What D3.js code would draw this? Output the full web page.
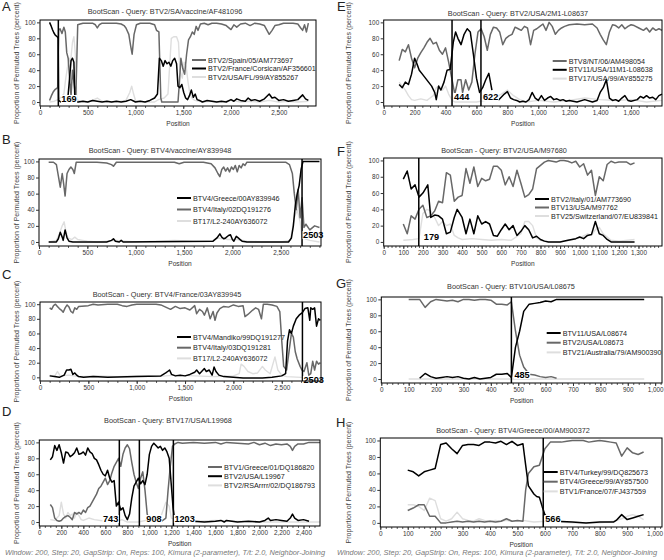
<!DOCTYPE html>
<meta charset="utf-8">
<style>
body{margin:0;background:#fff}
svg{font-family:"Liberation Sans",Arial,sans-serif}
</style>
<div id="fig"></div>
<script src="https://cdn.jsdelivr.net/npm/d3@7"></script>
<script>
var GREY = "#686868", BLACK = "#000", LIGHT = "#dedede";
var footer = "Window: 200, Step: 20, GapStrip: On, Reps: 100, Kimura (2-parameter), T/t: 2.0, Neighbor-Joining";

// ---- A
var aTitle = "BootScan - Query: BTV2/SA/vaccine/AF481096";
var aNames = ["BTV2/Spain/05/AM773697", "BTV2/France/Corsican/AF356601", "BTV2/USA/FL/99/AY855267"];
var aSpain = [[100,2],[120,8],[140,13],[160,16],[185,18],[195,90],[210,92],[230,86],[250,94],[265,88],[280,62],[295,55],[310,30],[325,8],[340,40],[360,20],[375,5],[395,97],[420,98],[450,99],[500,99],[550,99],[580,97],[600,93],[620,97],[650,99],[700,99],[750,99],[800,99],[850,98],[880,96],[900,93],[930,85],[950,70],[965,60],[985,85],[1010,97],[1050,99],[1100,99],[1150,99],[1200,97],[1220,90],[1245,88],[1265,5],[1275,0],[1300,0],[1350,0],[1400,0],[1445,0],[1460,25],[1475,55],[1495,42],[1515,35],[1535,60],[1555,78],[1575,82],[1595,88],[1615,85],[1635,95],[1655,90],[1680,98],[1720,99],[1760,97],[1800,99],[1850,99],[1900,98],[1950,96],[2000,91],[2030,97],[2060,94],[2100,98],[2150,99],[2200,96],[2250,99],[2300,98],[2350,96],[2400,85],[2430,90],[2460,96],[2500,97],[2550,99],[2600,99],[2650,99],[2700,98],[2730,93],[2750,90],[2770,97],[2790,88],[2810,99]];
var aCorsica = [[100,100],[115,96],[130,91],[145,87],[160,84],[180,82],[190,80],[195,2],[220,0],[260,0],[290,3],[310,30],[325,52],[340,55],[355,50],[365,3],[380,0],[400,0],[450,1],[500,0],[550,2],[600,1],[650,0],[700,1],[750,0],[800,1],[850,0],[900,1],[950,3],[1000,0],[1050,1],[1100,0],[1150,2],[1200,5],[1230,10],[1250,55],[1270,52],[1290,45],[1310,52],[1330,48],[1350,50],[1370,45],[1390,52],[1410,55],[1430,48],[1445,20],[1465,18],[1485,22],[1505,12],[1525,5],[1545,3],[1565,8],[1585,15],[1605,6],[1625,10],[1645,3],[1670,2],[1700,0],[1750,2],[1800,1],[1850,0],[1900,1],[1950,0],[2000,3],[2030,1],[2060,4],[2100,2],[2150,1],[2180,5],[2210,2],[2250,3],[2300,1],[2350,4],[2400,10],[2430,5],[2460,6],[2500,2],[2550,3],[2600,1],[2650,2],[2700,3],[2750,9],[2780,4],[2810,2]];
var aFL = [[100,0],[150,1],[190,3],[220,6],[250,10],[270,30],[290,45],[305,55],[320,50],[340,75],[355,82],[370,60],[385,3],[420,1],[500,0],[550,2],[600,5],[650,1],[700,0],[800,0],[900,2],[940,12],[960,20],[980,10],[1000,2],[1050,1],[1100,0],[1200,0],[1240,3],[1300,5],[1340,10],[1360,50],[1375,80],[1400,82],[1430,82],[1450,75],[1465,40],[1490,30],[1510,50],[1530,45],[1550,25],[1570,10],[1590,5],[1620,2],[1700,0],[1800,1],[1900,0],[2000,2],[2100,0],[2200,1],[2300,0],[2400,2],[2500,0],[2600,1],[2700,0],[2810,1]];
var aBreaks = [192], aBreakLbls = ["169"];

// ---- B
var bTitle = "BootScan - Query: BTV4/vaccine/AY839948";
var bNames = ["BTV4/Greece/00AY839946", "BTV4/Italy/02DQ191276", "BT17/L2-240AY636072"];
var bGreece = [[100,0],[180,0],[200,4],[220,12],[240,6],[250,2],[270,15],[290,5],[310,1],[350,0],[700,0],[750,2],[770,4],[790,1],[830,0],[850,2],[870,0],[1800,1],[1840,5],[1870,10],[1890,6],[1910,4],[1930,5],[1960,8],[1980,9],[2000,3],[2015,1],[2040,7],[2060,5],[2080,3],[2100,1],[2150,0],[2580,0],[2610,5],[2630,20],[2650,45],[2670,60],[2690,70],[2710,90],[2730,100],[2900,100]];
var bItaly = [[100,99],[150,99],[180,96],[200,82],[220,68],[240,85],[255,72],[270,57],[290,85],[310,90],[330,93],[350,90],[365,85],[385,99],[420,99],[500,99],[600,99],[700,98],[750,96],[770,94],[800,99],[900,99],[1000,99],[1100,99],[1200,99],[1300,99],[1400,99],[1450,97],[1500,99],[1600,99],[1700,99],[1780,97],[1820,92],[1850,85],[1870,81],[1890,90],[1910,93],[1930,88],[1950,92],[1970,87],[1990,93],[2010,90],[2030,95],[2050,87],[2070,95],[2090,92],[2110,97],[2130,95],[2150,99],[2250,99],[2350,99],[2450,99],[2550,99],[2590,96],[2620,85],[2640,60],[2660,40],[2680,65],[2700,30],[2720,55],[2740,18],[2760,22],[2800,15],[2850,20],[2900,18]];
var bL2 = [[100,0],[180,2],[210,10],[240,20],[260,25],[280,12],[300,5],[340,3],[370,6],[400,3],[450,2],[500,1],[600,0],[800,2],[1000,0],[1200,1],[1400,2],[1600,1],[1800,2],[1850,5],[1950,3],[2050,3],[2150,1],[2300,0],[2500,0],[2600,2],[2640,30],[2670,40],[2700,25],[2720,5],[2800,2],[2900,0]];
var bBreaks = [2720], bBreakLbls = ["2503"];

// ---- C
var cTitle = "BootScan - Query: BTV4/France/03AY839945";
var cNames = ["BTV4/Mandiko/99DQ191277", "BTV4/Italy/03DQ191281", "BT17/L2-240AY636072"];
var cMandiko = [[100,2],[150,1],[200,0],[250,3],[275,10],[300,10],[320,11],[340,4],[360,6],[380,3],[400,1],[450,0],[550,1],[700,0],[1000,1],[1250,2],[1300,6],[1320,8],[1340,10],[1360,4],[1400,2],[1450,3],[1500,2],[1550,4],[1600,7],[1620,10],[1650,5],[1700,12],[1720,8],[1750,10],[1780,3],[1800,14],[1820,8],[1850,3],[1900,1],[2000,0],[2100,-1],[2300,-1],[2400,0],[2500,2],[2540,5],[2560,50],[2580,65],[2600,60],[2620,70],[2650,80],[2680,85],[2710,88],[2740,94],[2770,95],[2790,78],[2800,95],[2820,93],[2840,95],[2860,70],[2880,80],[2900,78]];
var cItaly = [[100,95],[120,93],[140,98],[160,100],[180,97],[200,94],[220,92],[240,89],[260,95],[280,99],[300,96],[320,90],[340,88],[360,95],[380,93],[400,97],[500,98],[550,100],[600,99],[700,100],[800,100],[850,98],[900,97],[950,99],[1000,100],[1100,100],[1200,100],[1250,99],[1300,96],[1350,93],[1400,97],[1450,94],[1500,95],[1550,92],[1600,98],[1620,87],[1650,93],[1680,90],[1700,85],[1730,95],[1760,80],[1790,90],[1810,78],[1830,88],[1860,94],[1900,97],[1950,96],[2000,99],[2050,97],[2100,98],[2120,83],[2150,86],[2200,92],[2230,95],[2260,93],[2290,80],[2310,100],[2350,100],[2400,99],[2450,97],[2480,90],[2500,50],[2520,15],[2550,10],[2580,40],[2600,60],[2620,55],[2640,35],[2660,25],[2690,15],[2710,10],[2730,8],[2760,20],[2780,3],[2800,5],[2820,22],[2840,10],[2860,22],[2880,18],[2900,20]];
var cL2 = [[100,3],[150,1],[180,8],[210,2],[300,3],[400,1],[600,2],[800,1],[1000,2],[1200,1],[1400,3],[1600,2],[1800,1],[2000,2],[2060,5],[2080,18],[2110,15],[2150,8],[2200,5],[2250,6],[2300,15],[2330,10],[2380,5],[2430,28],[2460,10],[2500,3],[2550,1],[2700,0],[2900,0]];
var cBreaks = [2714], cBreakLbls = ["2503"];

// ---- D
var dTitle = "BootScan - Query: BTV17/USA/L19968";
var dNames = ["BTV1/Greece/01/DQ186820", "BTV2/USA/L19967", "BTV2/RSArrrr/02/DQ186793"];
var dGreece = [[100,22],[120,18],[140,5],[160,2],[180,1],[200,2],[220,5],[240,7],[260,8],[280,6],[300,3],[320,12],[340,10],[360,12],[380,10],[400,15],[420,12],[440,18],[460,20],[480,25],[500,30],[520,35],[540,42],[560,45],[580,50],[600,55],[620,47],[640,52],[660,62],[680,70],[700,75],[720,80],[740,70],[760,85],[780,93],[800,97],[820,92],[840,75],[860,60],[880,50],[900,42],[920,55],[940,63],[960,40],[980,10],[1000,2],[1020,0],[1100,0],[1150,5],[1170,40],[1190,70],[1210,95],[1230,98],[1260,100],[1300,99],[1400,100],[1500,99],[1600,100],[1650,98],[1700,100],[1800,99],[1900,98],[1950,100],[2000,97],[2050,99],[2100,96],[2150,98],[2200,97],[2250,98],[2280,95],[2300,90],[2320,95],[2350,98],[2400,98],[2450,100],[2550,100]];
var dUSA = [[100,78],[120,82],[140,96],[160,90],[180,97],[200,87],[220,74],[240,88],[260,87],[280,82],[300,84],[320,87],[340,93],[360,85],[380,86],[400,88],[420,84],[440,93],[460,88],[480,86],[500,80],[520,78],[540,72],[560,65],[580,60],[600,58],[620,65],[640,55],[660,50],[680,52],[700,20],[720,25],[740,15],[760,18],[780,8],[800,3],[820,10],[840,30],[860,45],[880,50],[900,55],[920,48],[940,52],[960,47],[980,60],[1000,85],[1020,95],[1040,99],[1060,96],[1080,93],[1100,95],[1120,90],[1140,93],[1160,88],[1180,80],[1200,45],[1215,18],[1230,2],[1300,0],[1400,1],[1500,0],[1600,1],[1650,2],[1680,0],[1700,2],[1750,1],[1800,0],[1900,1],[2000,0],[2050,2],[2080,5],[2100,2],[2150,3],[2200,2],[2250,1],[2280,5],[2300,10],[2320,5],[2350,2],[2400,3],[2450,1]];
var dRSA = [[100,3],[140,2],[160,5],[180,8],[200,25],[220,10],[240,5],[260,12],[280,8],[300,10],[320,5],[340,12],[360,8],[380,3],[400,2],[450,5],[500,3],[600,1],[700,0],[750,3],[800,0],[900,0],[1000,3],[1100,5],[1150,25],[1180,20],[1200,5],[1250,2],[1300,0],[1600,2],[2000,0],[2550,0]];
var dBreaks = [727, 909, 1218], dBreakLbls = ["743", "908", "1203"];

// ---- E
var eTitle = "BootScan - Query: BTV2/USA/2M1-L08637";
var eNames = ["BTV8/NT/06/AM498054", "BTV11/USA/11M1-L08638", "BTV17/USA/99/AY855275"];
var eNT = [[100,52],[120,66],[140,63],[160,72],[180,55],[200,43],[220,55],[240,62],[260,68],[280,75],[300,80],[320,73],[340,75],[360,65],[380,60],[400,68],[420,50],[440,30],[460,10],[480,28],[500,28],[510,12],[530,28],[550,15],[570,25],[590,60],[610,88],[630,92],[650,82],[670,65],[690,85],[710,94],[730,93],[750,88],[770,72],[790,80],[810,83],[830,85],[850,94],[870,92],[890,90],[910,95],[930,93],[950,72],[970,90],[990,92],[1010,95],[1030,98],[1050,90],[1070,100],[1090,95],[1110,85],[1130,90],[1150,93],[1170,95],[1200,97],[1250,98],[1300,97],[1350,98],[1380,93],[1400,85],[1420,78],[1440,72],[1460,88],[1480,97],[1500,96],[1520,93],[1540,97],[1560,92],[1580,95],[1600,97],[1620,96],[1650,93],[1680,90],[1700,93],[1720,88],[1740,93],[1760,90],[1780,92],[1800,90]];
var eUSA11 = [[100,22],[120,18],[140,25],[160,22],[180,35],[200,55],[215,48],[230,40],[250,35],[270,30],[290,25],[310,20],[330,12],[340,3],[355,20],[370,15],[390,25],[410,40],[430,41],[450,75],[465,88],[480,80],[500,72],[520,85],[540,92],[560,88],[580,60],[600,30],[620,12],[640,18],[660,28],[680,36],[700,15],[720,null],[740,2],[760,6],[780,10],[800,13],[820,5],[840,3],[860,2],[880,0],[900,1],[920,0],[940,3],[960,12],[980,5],[1000,2],[1020,8],[1040,2],[1060,5],[1080,7],[1100,3],[1120,4],[1140,2],[1160,3],[1180,1],[1200,2],[1250,0],[1300,3],[1350,0],[1380,2],[1400,12],[1420,18],[1440,28],[1460,5],[1480,2],[1500,3],[1520,1],[1540,5],[1560,8],[1580,2],[1600,1],[1640,3],[1660,7],[1680,5],[1700,8],[1720,5],[1740,6],[1760,3],[1780,8],[1800,10]];
var eUSA17 = [[100,25],[120,20],[140,15],[160,8],[180,3],[200,2],[240,4],[280,2],[300,5],[320,8],[340,18],[360,20],[380,15],[400,20],[420,10],[440,3],[460,0],[600,0],[660,2],[700,3],[760,10],[800,15],[840,8],[880,3],[920,0],[1000,2],[1100,0],[1200,2],[1300,5],[1400,3],[1500,2],[1600,3],[1700,0],[1800,2]];
var eBreaks = [442, 629], eBreakLbls = ["444", "622"];

// ---- F
var fTitle = "BootScan - Query: BTV2/USA/M97680";
var fNames = ["BTV2/Italy/01/AM773690", "BTV13/USA/M97762", "BTV25/Switzerland/07/EU839841"];
var fItaly = [[100,77],[120,87],[140,65],[160,70],[180,55],[200,60],[225,70],[240,30],[260,33],[280,32],[300,28],[320,10],[340,12],[360,30],[375,40],[400,30],[420,10],[440,28],[460,10],[480,32],[500,22],[520,25],[540,22],[560,8],[580,7],[600,15],[620,22],[640,15],[660,20],[680,8],[700,13],[720,20],[740,15],[760,5],[780,7],[800,3],[820,1],[840,0],[900,0],[940,2],[960,3],[980,4],[1000,6],[1020,4],[1040,8],[1060,9],[1080,25],[1100,10],[1120,8],[1140,3],[1160,0],[1280,0]];
var fUSA13 = [[100,22],[120,10],[140,32],[160,28],[180,40],[200,45],[220,30],[240,32],[260,38],[280,50],[300,48],[320,85],[340,82],[360,50],[380,55],[400,57],[420,90],[440,72],[460,92],[480,68],[500,78],[520,75],[540,77],[560,93],[580,93],[600,88],[620,70],[640,80],[660,68],[680,88],[700,72],[720,55],[740,58],[760,65],[780,90],[800,94],[820,98],[840,100],[860,99],[880,98],[900,100],[920,100],[940,99],[960,97],[980,99],[1000,92],[1020,96],[1040,82],[1060,88],[1080,57],[1100,80],[1120,75],[1140,95],[1160,99],[1180,97],[1200,98],[1220,98],[1240,98],[1260,95],[1280,97]];
var fSwiss = [[100,2],[150,3],[180,4],[200,35],[220,40],[240,38],[260,30],[280,20],[300,25],[320,20],[340,22],[360,8],[380,5],[400,3],[450,4],[500,3],[550,2],[600,3],[650,2],[700,10],[720,25],[740,25],[760,20],[780,5],[800,2],[850,0],[900,0],[950,2],[1000,5],[1040,10],[1060,8],[1080,15],[1100,18],[1120,10],[1160,2],[1200,1],[1280,3]];
var fBreaks = [179], fBreakLbls = ["179"];

// ---- G
var gTitle = "BootScan - Query: BTV10/USA/L08675";
var gNames = ["BTV11/USA/L08674", "BTV2/USA/L08673", "BTV21/Australia/79/AM900390"];
var gUSA11 = [[140,1],[160,7],[180,3],[200,1],[220,2],[240,3],[260,2],[280,3],[300,1],[320,0],[340,2],[360,0],[380,1],[400,2],[420,6],[440,6],[460,7],[475,2],[490,40],[505,60],[520,85],[540,94],[560,95],[580,96],[600,98],[620,97],[640,100],[700,100],[800,100],[900,100],[960,100]];
var gUSA2 = [[100,100],[140,100],[160,90],[180,97],[200,100],[220,99],[240,98],[260,99],[280,97],[300,100],[320,100],[340,99],[360,100],[380,100],[400,99],[420,94],[440,94],[460,93],[475,97],[490,60],[505,30],[520,15],[540,6],[560,5],[580,3],[600,2],[620,3],[640,1]];
var gAus = [[100,0],[200,0],[300,0],[400,0],[500,0],[600,0],[700,0],[800,0],[900,0],[960,0]];
var gBreaks = [475], gBreakLbls = ["485"];

// ---- H
var hTitle = "BootScan - Query: BTV4/Greece/00/AM900372";
var hNames = ["BTV4/Turkey/99/DQ825673", "BTV4/Greece/99/AY857500", "BTV1/France/07/FJ437559"];
var hTurkey = [[100,64],[120,62],[140,57],[160,62],[180,64],[200,66],[220,95],[240,97],[260,90],[280,84],[300,94],[320,95],[340,95],[360,94],[380,98],[400,98],[420,97],[440,99],[460,95],[480,99],[500,94],[520,96],[530,70],[540,45],[560,35],[570,32],[580,31],[590,20],[600,10],[620,3],[640,2],[700,1],[750,0],[800,1],[850,1],[860,3],[880,10],[900,4],[920,6],[940,8],[960,10]];
var hGreece = [[100,15],[120,18],[140,22],[160,22],[180,8],[200,8],[220,0],[240,0],[260,1],[280,2],[300,1],[320,2],[340,1],[360,2],[380,1],[400,2],[420,1],[440,2],[460,5],[480,2],[500,3],[520,2],[530,40],[540,60],[560,68],[580,70],[600,90],[620,98],[640,98],[660,98],[680,99],[700,100],[720,100],[740,100],[760,98],[780,99],[800,100],[820,99],[840,98],[860,97],[880,81],[900,91],[920,85],[940,83],[960,86]];
var hFrance = [[100,22],[120,22],[140,20],[160,15],[180,30],[200,27],[220,5],[240,2],[260,5],[280,13],[300,5],[320,3],[340,2],[360,5],[380,3],[400,2],[420,3],[440,2],[460,3],[480,2],[500,2],[520,3],[540,2],[560,1],[600,2],[650,1],[700,0],[800,0],[850,2],[880,5],[900,8],[920,10],[940,8],[960,4]];
var hBreaks = [594], hBreakLbls = ["566"];

// panel layout
var panels = [
  {tag:"A", tx:2, ty:11, x0:40, x1:316, top:20, bottom:106, xmax:2890, major:500, minor:100, tickMax:2500, titleX:165, titleY:11, title:aTitle,
   names:aNames, series:[aSpain, aCorsica, aFL], colors:[GREY, BLACK, LIGHT], lgX:208, lgY:60, lgDy:8.5,
   breaks:aBreaks, lbls:aBreakLbls, lblDx:[3], lblY:99, ylabX:16},
  {tag:"B", tx:2, ty:144, x0:39, x1:321, top:159, bottom:246, xmax:2916, major:500, minor:100, tickMax:2500, titleX:160, titleY:150, title:bTitle,
   names:bNames, series:[bGreece, bItaly, bL2], colors:[BLACK, GREY, LIGHT], lgX:193, lgY:198, lgDy:11.5,
   breaks:bBreaks, lbls:bBreakLbls, lblDx:[1], lblY:235, ylabX:16},
  {tag:"C", tx:2, ty:279, x0:40, x1:321, top:302, bottom:381, xmax:2906, major:500, minor:100, tickMax:2500, titleX:167, titleY:294, title:cTitle,
   names:cNames, series:[cMandiko, cItaly, cL2], colors:[BLACK, GREY, LIGHT], lgX:193, lgY:337, lgDy:10.7,
   breaks:cBreaks, lbls:cBreakLbls, lblDx:[1], lblY:380, ylabX:16},
  {tag:"D", tx:2, ty:416, x0:39.3, x1:320, top:440, bottom:526, xmax:2550, major:200, minor:50, tickMax:2400, titleX:168, titleY:420, title:dTitle,
   names:dNames, series:[dGreece, dUSA, dRSA], colors:[GREY, BLACK, LIGHT], lgX:224, lgY:467, lgDy:9.2,
   breaks:dBreaks, lbls:dBreakLbls, lblDx:[-1, 7, 1], lblY:519, ylabX:16},
  {tag:"E", tx:337, ty:11, x0:383.7, x1:662, top:20, bottom:106, xmax:1800, major:200, minor:50, tickMax:1600, titleX:518, titleY:13, title:eTitle,
   names:eNames, series:[eNT, eUSA11, eUSA17], colors:[GREY, BLACK, LIGHT], lgX:568.7, lgY:61, lgDy:8.8,
   breaks:eBreaks, lbls:eBreakLbls, lblDx:[2, 2], lblY:97, ylabX:348},
  {tag:"F", tx:337, ty:156, x0:383.7, x1:662, top:158, bottom:246, xmax:1420, major:100, minor:20, tickMax:1300, titleX:504, titleY:150, title:fTitle,
   names:fNames, series:[fItaly, fUSA13, fSwiss], colors:[BLACK, GREY, LIGHT], lgX:551, lgY:199, lgDy:8.5,
   breaks:fBreaks, lbls:fBreakLbls, lblDx:[5], lblY:237, ylabX:348},
  {tag:"G", tx:336, ty:288, x0:381.3, x1:662, top:297, bottom:383, xmax:1025, major:100, minor:20, tickMax:1000, titleX:511, titleY:286, title:gTitle,
   names:gNames, series:[gUSA11, gUSA2, gAus], colors:[BLACK, GREY, LIGHT], lgX:562.7, lgY:333, lgDy:9.7,
   breaks:gBreaks, lbls:gBreakLbls, lblDx:[3], lblY:375, ylabX:348},
  {tag:"H", tx:336, ty:427, x0:380.3, x1:662, top:438, bottom:527, xmax:1027, major:100, minor:20, tickMax:1000, titleX:513, titleY:430, title:hTitle,
   names:hNames, series:[hTurkey, hGreece, hFrance], colors:[BLACK, GREY, LIGHT], lgX:559.7, lgY:472, lgDy:9.7,
   breaks:hBreaks, lbls:hBreakLbls, lblDx:[2], lblY:519, ylabX:348}
];

var svg = d3.select("#fig").append("svg")
    .attr("width", 664)
    .attr("height", 560);

// draw order: light, grey, black
var zorder = {};
zorder[LIGHT] = 0; zorder[GREY] = 1; zorder[BLACK] = 2;

function drawPanel(p) {
    var g = svg.append("g");
    var x = d3.scaleLinear().domain([0, p.xmax]).range([p.x0, p.x1]);
    var y = d3.scaleLinear().domain([-5, 103]).range([p.bottom, p.top]);

    g.append("text").attr("x", p.tx).attr("y", p.ty)
        .attr("font-size", 13).attr("fill", "#222").text(p.tag);
    g.append("text").attr("x", p.titleX).attr("y", p.titleY)
        .attr("text-anchor", "middle").attr("dominant-baseline", "central")
        .attr("font-size", 7.3).attr("fill", "#333").text(p.title);

    var line = d3.line()
        .defined(function(d) { return d[1] != null; })
        .x(function(d) { return x(d[0]); })
        .y(function(d) { return y(d[1]); });

    var idx = [0, 1, 2].sort(function(a, b) { return zorder[p.colors[a]] - zorder[p.colors[b]]; });
    idx.forEach(function(i) {
        g.append("path").datum(p.series[i])
            .attr("d", line)
            .attr("fill", "none")
            .attr("stroke", p.colors[i])
            .attr("stroke-width", p.colors[i] == LIGHT ? 1.4 : 1.5)
            .attr("stroke-linejoin", "round");
    });

    // breakpoints
    p.breaks.forEach(function(b, i) {
        g.append("line")
            .attr("x1", x(b)).attr("x2", x(b))
            .attr("y1", p.top).attr("y2", p.bottom)
            .attr("stroke", "#000").attr("stroke-width", 1.5);
        var dx = p.lblDx[i];
        var t = g.append("text")
            .attr("x", x(b) + dx).attr("y", p.lblY)
            .attr("text-anchor", dx < 0 ? "end" : "start")
            .attr("dominant-baseline", "central")
            .attr("font-size", 9.2).attr("font-weight", "bold")
            .text(p.lbls[i]);
        var bb = t.node().getBBox();
        g.insert("rect", function() { return t.node(); })
            .attr("x", bb.x - 0.5).attr("y", bb.y + 1)
            .attr("width", bb.width + 1).attr("height", bb.height - 2)
            .attr("fill", "#fff");
    });

    // frame
    g.append("rect")
        .attr("x", p.x0).attr("y", p.top)
        .attr("width", p.x1 - p.x0).attr("height", p.bottom - p.top)
        .attr("fill", "none").attr("stroke", "#000").attr("stroke-width", 1);

    // axes
    g.append("g").attr("transform", "translate(0," + p.bottom + ")")
        .call(d3.axisBottom(x).tickValues(d3.range(0, p.tickMax + 1, p.major))
            .tickFormat(d3.format(",")).tickSize(3).tickPadding(1.5));
    g.append("g").attr("transform", "translate(0," + p.bottom + ")")
        .call(d3.axisBottom(x).tickValues(d3.range(0, p.xmax, p.minor))
            .tickFormat("").tickSize(1.8));
    g.append("g").attr("transform", "translate(" + p.x0 + ",0)")
        .call(d3.axisLeft(y).tickValues([0, 20, 40, 60, 80, 100]).tickSize(3).tickPadding(1.5));
    g.selectAll(".domain").remove();
    g.selectAll(".tick text").attr("font-size", 6.4).attr("fill", "#333")
        .attr("font-family", "Liberation Sans, Arial, sans-serif");
    g.selectAll(".tick line").attr("stroke", "#333");

    g.append("text")
        .attr("x", (p.x0 + p.x1) / 2).attr("y", p.bottom + 17)
        .attr("text-anchor", "middle").attr("dominant-baseline", "central")
        .attr("font-size", 6.6).attr("fill", "#333").text("Position");
    g.append("text")
        .attr("transform", "translate(" + p.ylabX + "," + ((p.top + p.bottom) / 2) + ") rotate(-90)")
        .attr("text-anchor", "middle").attr("dominant-baseline", "central")
        .attr("font-size", 7).attr("fill", "#444")
        .text("Proportion of Permuted Trees (percent)");

    // legend
    p.names.forEach(function(n, i) {
        var ly = p.lgY + i * p.lgDy;
        g.append("line")
            .attr("x1", p.lgX - 16).attr("x2", p.lgX - 2)
            .attr("y1", ly).attr("y2", ly)
            .attr("stroke", p.colors[i]).attr("stroke-width", 2);
        g.append("text")
            .attr("x", p.lgX).attr("y", ly)
            .attr("dominant-baseline", "central")
            .attr("font-size", 7.2).attr("fill", "#222").text(n);
    });
}

panels.forEach(drawPanel);

[5, 337].forEach(function(fx) {
    svg.append("text")
        .attr("x", fx).attr("y", 552)
        .attr("dominant-baseline", "central")
        .attr("font-size", 6.8).attr("font-style", "italic").attr("fill", "#777")
        .attr("textLength", 320).attr("lengthAdjust", "spacingAndGlyphs")
        .text(footer);
});
</script>
